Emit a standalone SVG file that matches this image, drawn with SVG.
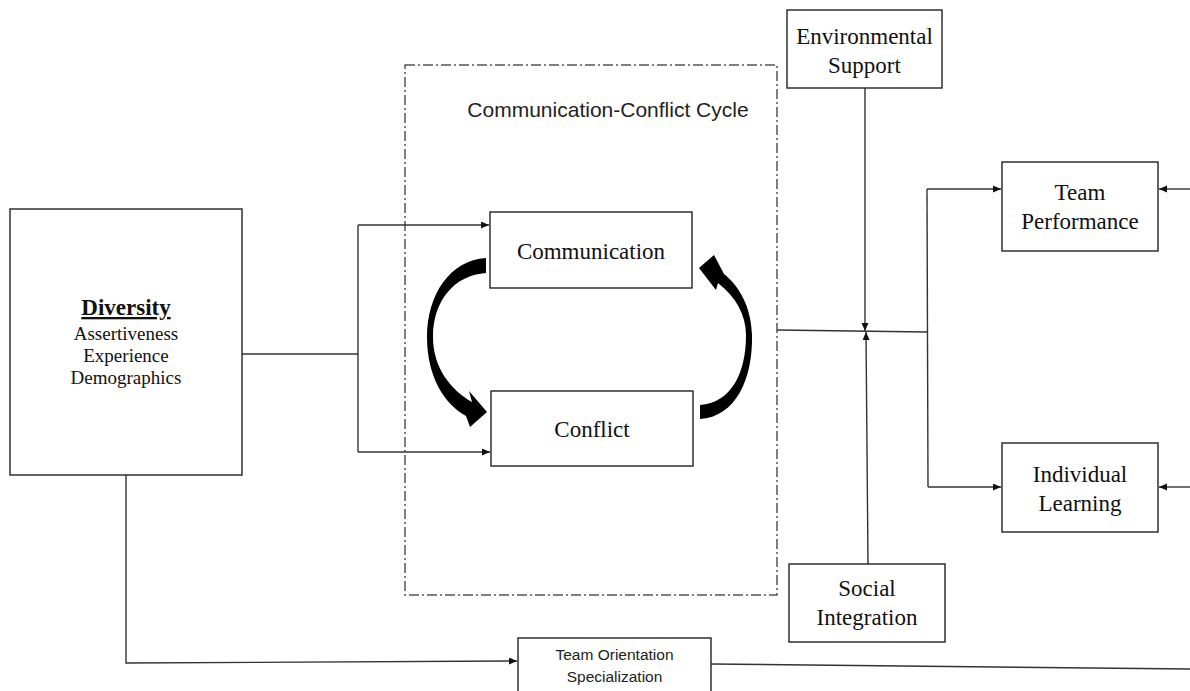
<svg xmlns="http://www.w3.org/2000/svg" width="1190" height="691" viewBox="0 0 1190 691">
<defs>
<marker id="arr" markerUnits="userSpaceOnUse" markerWidth="9" markerHeight="8" refX="8" refY="3.5" orient="auto">
<path d="M0,0 L8,3.5 L0,7 z" fill="#111"/>
</marker>
<style>
.box{fill:#fff;stroke:#222;stroke-width:1.4}
.ln{fill:none;stroke:#333;stroke-width:1.4}
.t{font-family:"Liberation Serif","Times New Roman",serif;font-size:23px;fill:#111;text-anchor:middle}
.s{font-family:"Liberation Serif","Times New Roman",serif;font-size:19px;fill:#111;text-anchor:middle}
.c{font-family:"Liberation Sans",Arial,sans-serif;fill:#222;text-anchor:middle}
</style>
</defs>
<rect width="1190" height="691" fill="#fff"/>

<g id="cycle">
<rect x="405" y="65" width="372" height="530" fill="none" stroke="#555" stroke-width="1.5" stroke-dasharray="10,3,2,3"/>
<text class="c" x="608" y="117" font-size="21">Communication-Conflict Cycle</text>
</g>

<g id="connectors">
<polyline class="ln" points="242,354 358,354"/>
<polyline class="ln" points="358,225 358,452"/>
<polyline class="ln" points="358,225 489,225" marker-end="url(#arr)"/>
<polyline class="ln" points="358,452 490,452" marker-end="url(#arr)"/>
<polyline class="ln" points="865,88 865,331" marker-end="url(#arr)"/>
<polyline class="ln" points="868,564 866,332" marker-end="url(#arr)"/>
<polyline class="ln" points="777,330 927,332"/>
<polyline class="ln" points="927,189 928,487"/>
<polyline class="ln" points="927,189 1001,189" marker-end="url(#arr)"/>
<polyline class="ln" points="928,487 1001,487" marker-end="url(#arr)"/>
<polyline class="ln" points="1190,189 1159,189" marker-end="url(#arr)"/>
<polyline class="ln" points="1190,487 1159,487" marker-end="url(#arr)"/>
<polyline class="ln" points="126,475 126,663 517,661" marker-end="url(#arr)"/>
<polyline class="ln" points="711,664 1190,669"/>
<path id="arc-left" d="M486,258 C450,260 427,295 427,337 C427,376 444,404 466,416 L470,427 L487,412 L469,391 L472,402 C451,390 433,368 433,337 C433,300 455,275 486,273 Z" fill="#000"/>
<path id="arc-right" d="M700,419 C735,417 753,380 752,335 C751,307 740,287 724,274 L714,255 L699,268 L716,290 L718,283 C736,297 746,315 746,335 C746,375 730,403 700,405 Z" fill="#000"/>
</g>

<g id="diversity">
<rect class="box" x="10" y="209" width="232" height="266"/>
<text class="t" x="126" y="315" font-weight="bold" text-decoration="underline">Diversity</text>
<text class="s" x="126" y="340">Assertiveness</text>
<text class="s" x="126" y="362">Experience</text>
<text class="s" x="126" y="384">Demographics</text>
</g>

<g id="communication">
<rect class="box" x="490" y="212" width="202" height="76"/>
<text class="t" x="591" y="259">Communication</text>
</g>

<g id="conflict">
<rect class="box" x="491" y="391" width="202" height="75"/>
<text class="t" x="592" y="437">Conflict</text>
</g>

<g id="environmental-support">
<rect class="box" x="787" y="10" width="155" height="78"/>
<text class="t" x="864.5" y="44">Environmental</text>
<text class="t" x="864.5" y="73">Support</text>
</g>

<g id="social-integration">
<rect class="box" x="789" y="564" width="156" height="78"/>
<text class="t" x="867" y="596">Social</text>
<text class="t" x="867" y="625">Integration</text>
</g>

<g id="team-performance">
<rect class="box" x="1002" y="162" width="156" height="89"/>
<text class="t" x="1080" y="200">Team</text>
<text class="t" x="1080" y="229">Performance</text>
</g>

<g id="individual-learning">
<rect class="box" x="1002" y="443" width="156" height="89"/>
<text class="t" x="1080" y="482">Individual</text>
<text class="t" x="1080" y="511">Learning</text>
</g>

<g id="team-orientation">
<rect class="box" x="518" y="638" width="193" height="60"/>
<text class="c" x="614.5" y="660" font-size="15.5">Team Orientation</text>
<text class="c" x="614.5" y="682" font-size="15.5">Specialization</text>
</g>
</svg>
